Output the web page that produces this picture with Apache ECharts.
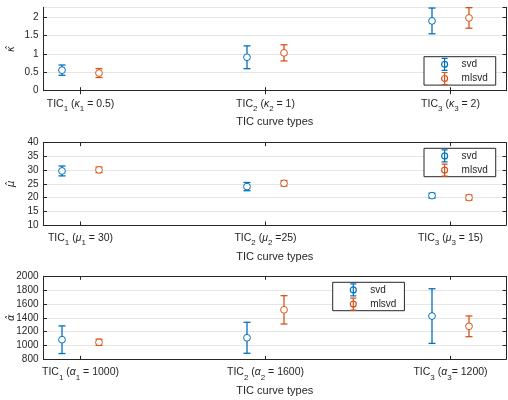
<!DOCTYPE html>
<html>
<head>
<meta charset="utf-8">
<script src="https://cdn.jsdelivr.net/npm/echarts@6/dist/echarts.min.js"></script>
<style>
html, body { margin: 0; padding: 0; background: #fff; }
#main { width: 508px; height: 400px; }
</style>
</head>
<body>
<div id="main"></div>
<script>
// x positions of the two methods around each TIC tick
var xTicks = [1, 2, 3];
var svdX = [0.9, 1.9, 2.9];
var mlsvdX = [1.1, 2.1, 3.1];

// kappa estimates (mean, half error bar)
var kappaSvd = [0.56, 0.91, 1.90];
var kappaSvdErr = [0.14, 0.31, 0.35];
var kappaMlsvd = [0.48, 1.03, 1.98];
var kappaMlsvdErr = [0.12, 0.22, 0.28];

// mu estimates
var muSvd = [29.7, 24.0, 20.7];
var muSvdErr = [1.8, 1.5, 0.9];
var muMlsvd = [30.1, 25.2, 20.0];
var muMlsvdErr = [1.0, 1.0, 0.9];

// alpha estimates
var alphaSvd = [1083, 1111, 1425];
var alphaSvdErr = [200, 224, 395];
var alphaMlsvd = [1046, 1515, 1277];
var alphaMlsvdErr = [45, 205, 150];

// tick labels (rich text, {s|..} = subscript, {g|..} = greek)
var kappaLabels = ['TIC{s|1} ({g|κ}{s|1} = 0.5)', 'TIC{s|2} ({g|κ}{s|2} = 1)', 'TIC{s|3} ({g|κ}{s|3} = 2)'];
var muLabels = ['TIC{s|1} ({g|μ}{s|1} = 30)', 'TIC{s|2} ({g|μ}{s|2} =25)', 'TIC{s|3} ({g|μ}{s|3} = 15)'];
var alphaLabels = ['TIC{s|1} ({g|α}{s|1} = 1000)', 'TIC{s|2} ({g|α}{s|2} = 1600)', 'TIC{s|3} ({g|α}{s|3}= 1200)'];

var blue = '#0072BD';
var orange = '#D95319';
var dark = '#262626';
var font = 'Liberation Sans, Arial, sans-serif';

var grids = [
	{left: 43.5, width: 462.5, top: 7.3, height: 83.4, outerBoundsMode: 'none', containLabel: false},
	{left: 43.5, width: 462.5, top: 142.7, height: 82.3, outerBoundsMode: 'none', containLabel: false},
	{left: 43.5, width: 462.5, top: 276.3, height: 83, outerBoundsMode: 'none', containLabel: false}
];

function pack(xs, ys, es){
	var out = [];
	for (var i = 0; i < xs.length; i++) out.push([xs[i], ys[i], es[i]]);
	return out;
}

function renderBar(params, api){
	var x = api.value(0), y = api.value(1), e = api.value(2);
	var c = api.coord([x, y]);
	var hi = api.coord([x, y + e]);
	var lo = api.coord([x, y - e]);
	var color = api.visual('color');
	var st = {stroke: color, lineWidth: 1.3, fill: null};
	return {
		type: 'group',
		children: [
			{type: 'line', shape: {x1: hi[0], y1: hi[1], x2: lo[0], y2: lo[1]}, style: st},
			{type: 'line', shape: {x1: hi[0] - 3.5, y1: hi[1], x2: hi[0] + 3.5, y2: hi[1]}, style: st},
			{type: 'line', shape: {x1: lo[0] - 3.5, y1: lo[1], x2: lo[0] + 3.5, y2: lo[1]}, style: st},
			{type: 'circle', shape: {cx: c[0], cy: c[1], r: 3.4}, style: {stroke: color, lineWidth: 1, fill: '#fff'}}
		]
	};
}

var rich = {
	s: {fontSize: 8, color: dark, fontFamily: font, padding: [10, 0, 0, 0]},
	g: {fontSize: 10.5, color: dark, fontFamily: font, fontStyle: 'italic'}
};

var xAxes = [], yAxes = [], series = [], legends = [];
var labelSets = [kappaLabels, muLabels, alphaLabels];
var yNames = ['κ̂', 'μ̂', 'α̂'];
var yRanges = [[0, 2.27, 0.5], [10, 40, 5], [800, 2000, 200]];
var dataSets = [
	[pack(svdX, kappaSvd, kappaSvdErr), pack(mlsvdX, kappaMlsvd, kappaMlsvdErr)],
	[pack(svdX, muSvd, muSvdErr), pack(mlsvdX, muMlsvd, muMlsvdErr)],
	[pack(svdX, alphaSvd, alphaSvdErr), pack(mlsvdX, alphaMlsvd, alphaMlsvdErr)]
];
var legendPos = [[424, 56.7], [424, 148.3], [332.7, 282.3]];

var barIcon = 'path://M2,0 L8,0 M5,0 L5,12 M2,12 L8,12 M5,3 A3,3 0 1 1 5,9 A3,3 0 1 1 5,3 Z';

for (var g = 0; g < 3; g++) {
	(function(g){
		var labels = labelSets[g];
		xAxes.push({
			gridIndex: g, type: 'value', min: 0.8, max: 3.3, position: 'bottom',
			name: 'TIC curve types', nameLocation: 'middle', nameGap: 26,
			nameTextStyle: {fontSize: 11, color: dark, fontFamily: font},
			axisLine: {show: true, lineStyle: {color: dark, width: 1}},
			axisTick: {show: true, inside: true, length: 3.5, customValues: xTicks, lineStyle: {color: dark}},
			axisLabel: {
				show: true, customValues: xTicks, margin: 4, fontSize: 10.5, color: dark, fontFamily: font,
				formatter: function(v){ return labels[Math.round(v) - 1]; },
				rich: rich
			},
			splitLine: {show: false}
		});
		xAxes.push({
			gridIndex: g, type: 'value', min: 0.8, max: 3.3, position: 'top',
			axisLine: {show: true, lineStyle: {color: dark, width: 1}},
			axisTick: {show: true, inside: true, length: 3.5, customValues: xTicks, lineStyle: {color: dark}},
			axisLabel: {show: false},
			splitLine: {show: false}
		});
		var r = yRanges[g];
		yAxes.push({
			gridIndex: g, type: 'value', min: r[0], max: r[1], interval: r[2], position: 'left',
			name: yNames[g], nameLocation: 'middle', nameGap: 27, nameRotate: 90, nameMoveOverlap: false,
			nameTextStyle: {fontSize: 10, color: dark, fontFamily: 'DejaVu Sans', fontStyle: 'italic'},
			axisLine: {show: true, lineStyle: {color: dark, width: 1}},
			axisTick: {show: true, inside: true, length: 3.5, lineStyle: {color: dark}},
			axisLabel: {
				fontSize: 10, color: dark, fontFamily: font, margin: 5, showMaxLabel: g !== 0,
				formatter: function(v){ return String(v); }
			},
			splitLine: {show: true, lineStyle: {color: '#e6e6e6', width: 1}}
		});
		yAxes.push({
			gridIndex: g, type: 'value', min: r[0], max: r[1], interval: r[2], position: 'right',
			axisLine: {show: true, lineStyle: {color: dark, width: 1}},
			axisTick: {show: true, inside: true, length: 3.5, lineStyle: {color: dark}},
			axisLabel: {show: false},
			splitLine: {show: false}
		});
		series.push({
			name: 'svd', type: 'custom', xAxisIndex: g * 2, yAxisIndex: g * 2,
			itemStyle: {color: blue}, renderItem: renderBar, data: dataSets[g][0], z: 5
		});
		series.push({
			name: 'mlsvd', type: 'custom', xAxisIndex: g * 2, yAxisIndex: g * 2,
			itemStyle: {color: orange}, renderItem: renderBar, data: dataSets[g][1], z: 5
		});
		legends.push({
			left: legendPos[g][0], top: legendPos[g][1], orient: 'vertical',
			backgroundColor: '#fff', borderColor: dark, borderWidth: 1,
			padding: [1, 8, 0, 17], itemGap: 1, itemWidth: 10, itemHeight: 12,
			selectedMode: false,
			textStyle: {fontSize: 10, color: dark, fontFamily: font, padding: [0, 0, 0, 7], lineHeight: 12},
			data: [
				{name: 'svd', icon: barIcon, itemStyle: {color: '#fff', borderColor: blue, borderWidth: 1.2}},
				{name: 'mlsvd', icon: barIcon, itemStyle: {color: '#fff', borderColor: orange, borderWidth: 1.2}}
			]
		});
	})(g);
}

var myChart = echarts.init(document.getElementById('main'), null, {renderer: 'canvas'});
myChart.setOption({
	animation: false,
	backgroundColor: '#fff',
	grid: grids,
	xAxis: xAxes,
	yAxis: yAxes,
	legend: legends,
	series: series
});
</script>
</body>
</html>
